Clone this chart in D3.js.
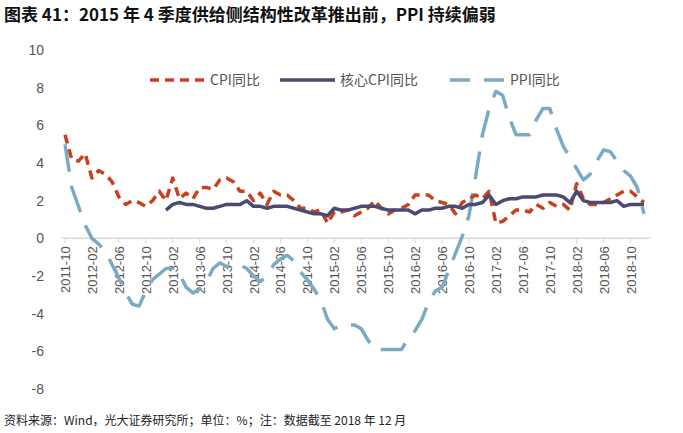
<!DOCTYPE html><html><head><meta charset="utf-8"><script src="https://cdn.jsdelivr.net/npm/d3@7"></script>
<style>body{margin:0;background:#fff;font-family:"Noto Sans CJK SC","Noto Sans",sans-serif}</style></head><body><svg id="c" width="683" height="433"></svg><script>
const startMonth="2011-10";
const cpi=[5.5,4.2,4.1,4.5,3.2,3.6,3.4,3.0,2.2,1.8,2.0,1.9,1.7,2.0,2.5,2.0,3.2,2.1,2.4,2.1,2.7,2.7,2.6,3.1,3.2,3.0,2.5,2.5,2.0,2.4,1.8,2.5,2.3,2.3,2.0,1.6,1.6,1.4,1.5,0.8,1.4,1.4,1.5,1.2,1.4,1.6,2.0,1.6,1.3,1.5,1.6,1.8,2.3,2.3,2.3,2.0,1.9,1.8,1.3,1.9,2.1,2.3,2.1,2.5,0.8,0.9,1.2,1.5,1.5,1.4,1.8,1.6,1.9,1.7,1.8,1.5,2.9,2.1,1.8,1.8,1.9,2.1,2.3,2.5,2.5,2.2,1.9];
const core=[null,null,null,null,null,null,null,null,null,null,null,null,null,null,null,1.5,1.8,1.9,1.8,1.8,1.7,1.6,1.6,1.7,1.8,1.8,1.8,2.0,1.7,1.7,1.6,1.7,1.7,1.7,1.6,1.5,1.4,1.3,1.3,1.2,1.6,1.5,1.5,1.6,1.7,1.7,1.7,1.6,1.5,1.5,1.5,1.5,1.3,1.5,1.5,1.6,1.6,1.7,1.7,1.6,1.8,1.8,1.9,2.3,1.8,2.0,2.1,2.1,2.2,2.2,2.2,2.3,2.3,2.3,2.2,1.9,2.5,2.0,1.9,1.9,1.9,1.9,2.0,1.7,1.8,1.8,1.8];
const ppi=[5.0,2.7,1.7,0.7,0.0,-0.3,-0.7,-1.4,-2.1,-2.9,-3.5,-3.6,-2.8,-2.2,-1.9,-1.6,-1.6,-1.9,-2.6,-2.9,-2.7,-2.3,-1.6,-1.3,-1.5,-1.4,-1.4,-1.6,-2.0,-2.3,-2.0,-1.4,-1.1,-0.9,-1.2,-1.8,-2.2,-2.7,-3.3,-4.3,-4.8,-4.6,-4.6,-4.6,-4.8,-5.4,-5.9,-5.9,-5.9,-5.9,-5.9,-5.3,-4.9,-4.3,-3.4,-2.8,-2.6,-1.7,-0.8,0.1,1.2,3.3,5.5,6.9,7.8,7.6,6.4,5.5,5.5,5.5,6.3,6.9,6.9,5.8,4.9,4.3,3.7,3.1,3.4,4.1,4.7,4.6,4.1,3.6,3.3,2.7,1.3];
const yTicks=[10,8,6,4,2,0,-2,-4,-6,-8];
const seriesNames=["CPI同比","核心CPI同比","PPI同比"];
const months=cpi.map((d,i)=>{const y=2011+Math.floor((9+i)/12),m=(9+i)%12+1;return y+"-"+String(m).padStart(2,"0");});
const svg=d3.select("#c");
const x=d3.scalePoint().domain(months).range([65,644]);
const y=d3.scaleLinear().domain([-8,10]).range([389,50]);
svg.append("text").attr("x",4).attr("y",21).attr("font-size",17).attr("font-weight","bold").attr("fill","#111").text("图表 41：2015 年 4 季度供给侧结构性改革推出前，PPI 持续偏弱");
svg.append("text").attr("x",4).attr("y",425).attr("font-size",12).attr("fill","#222").text("资料来源：Wind，光大证券研究所；单位：%；注：数据截至 2018 年 12 月");
yTicks.forEach(t=>svg.append("text").attr("x",44).attr("y",y(t)+5).attr("text-anchor","end").attr("font-size",14).attr("fill","#555").attr("font-family","Liberation Sans, Arial").text(t));
const ax=svg.append("g").attr("transform",`translate(0,${y(0)})`);
ax.append("line").attr("x1",62).attr("x2",650).attr("stroke","#d9d9d9").attr("stroke-width",1.5);
months.forEach((m,i)=>{if(i%4===0){ax.append("line").attr("x1",x(m)).attr("x2",x(m)).attr("y1",0).attr("y2",5).attr("stroke","#d9d9d9");
ax.append("text").attr("transform",`translate(${x(m)+5},8) rotate(-90)`).attr("text-anchor","end").attr("font-size",13).attr("fill","#555").attr("font-family","Liberation Sans, Arial").text(m);}});
const line=d3.line().defined(d=>d!=null).x((d,i)=>x(months[i])).y(d=>y(d));
const styles=[{c:"#c8401e",w:3.5,da:"9,6"},{c:"#4b4a72",w:3.5,da:null},{c:"#7babc4",w:3.5,da:"28,14"}];
[ppi,cpi,core].forEach((arr,k)=>{const s=styles[[2,0,1][k]];svg.append("path").attr("d",line(arr)).attr("fill","none").attr("stroke",s.c).attr("stroke-width",s.w).attr("stroke-dasharray",s.da).attr("stroke-linejoin","round");});
const lg=[[150,205,210],[280,335,340],[450,505,510]];
seriesNames.forEach((n,k)=>{const s=styles[k];svg.append("line").attr("x1",lg[k][0]).attr("x2",lg[k][1]).attr("y1",80).attr("y2",80).attr("stroke",s.c).attr("stroke-width",s.w).attr("stroke-dasharray",k==2?"20,14":s.da);
svg.append("text").attr("x",lg[k][2]).attr("y",85).attr("font-size",14).attr("fill","#555").text(n);});
</script></body></html>
